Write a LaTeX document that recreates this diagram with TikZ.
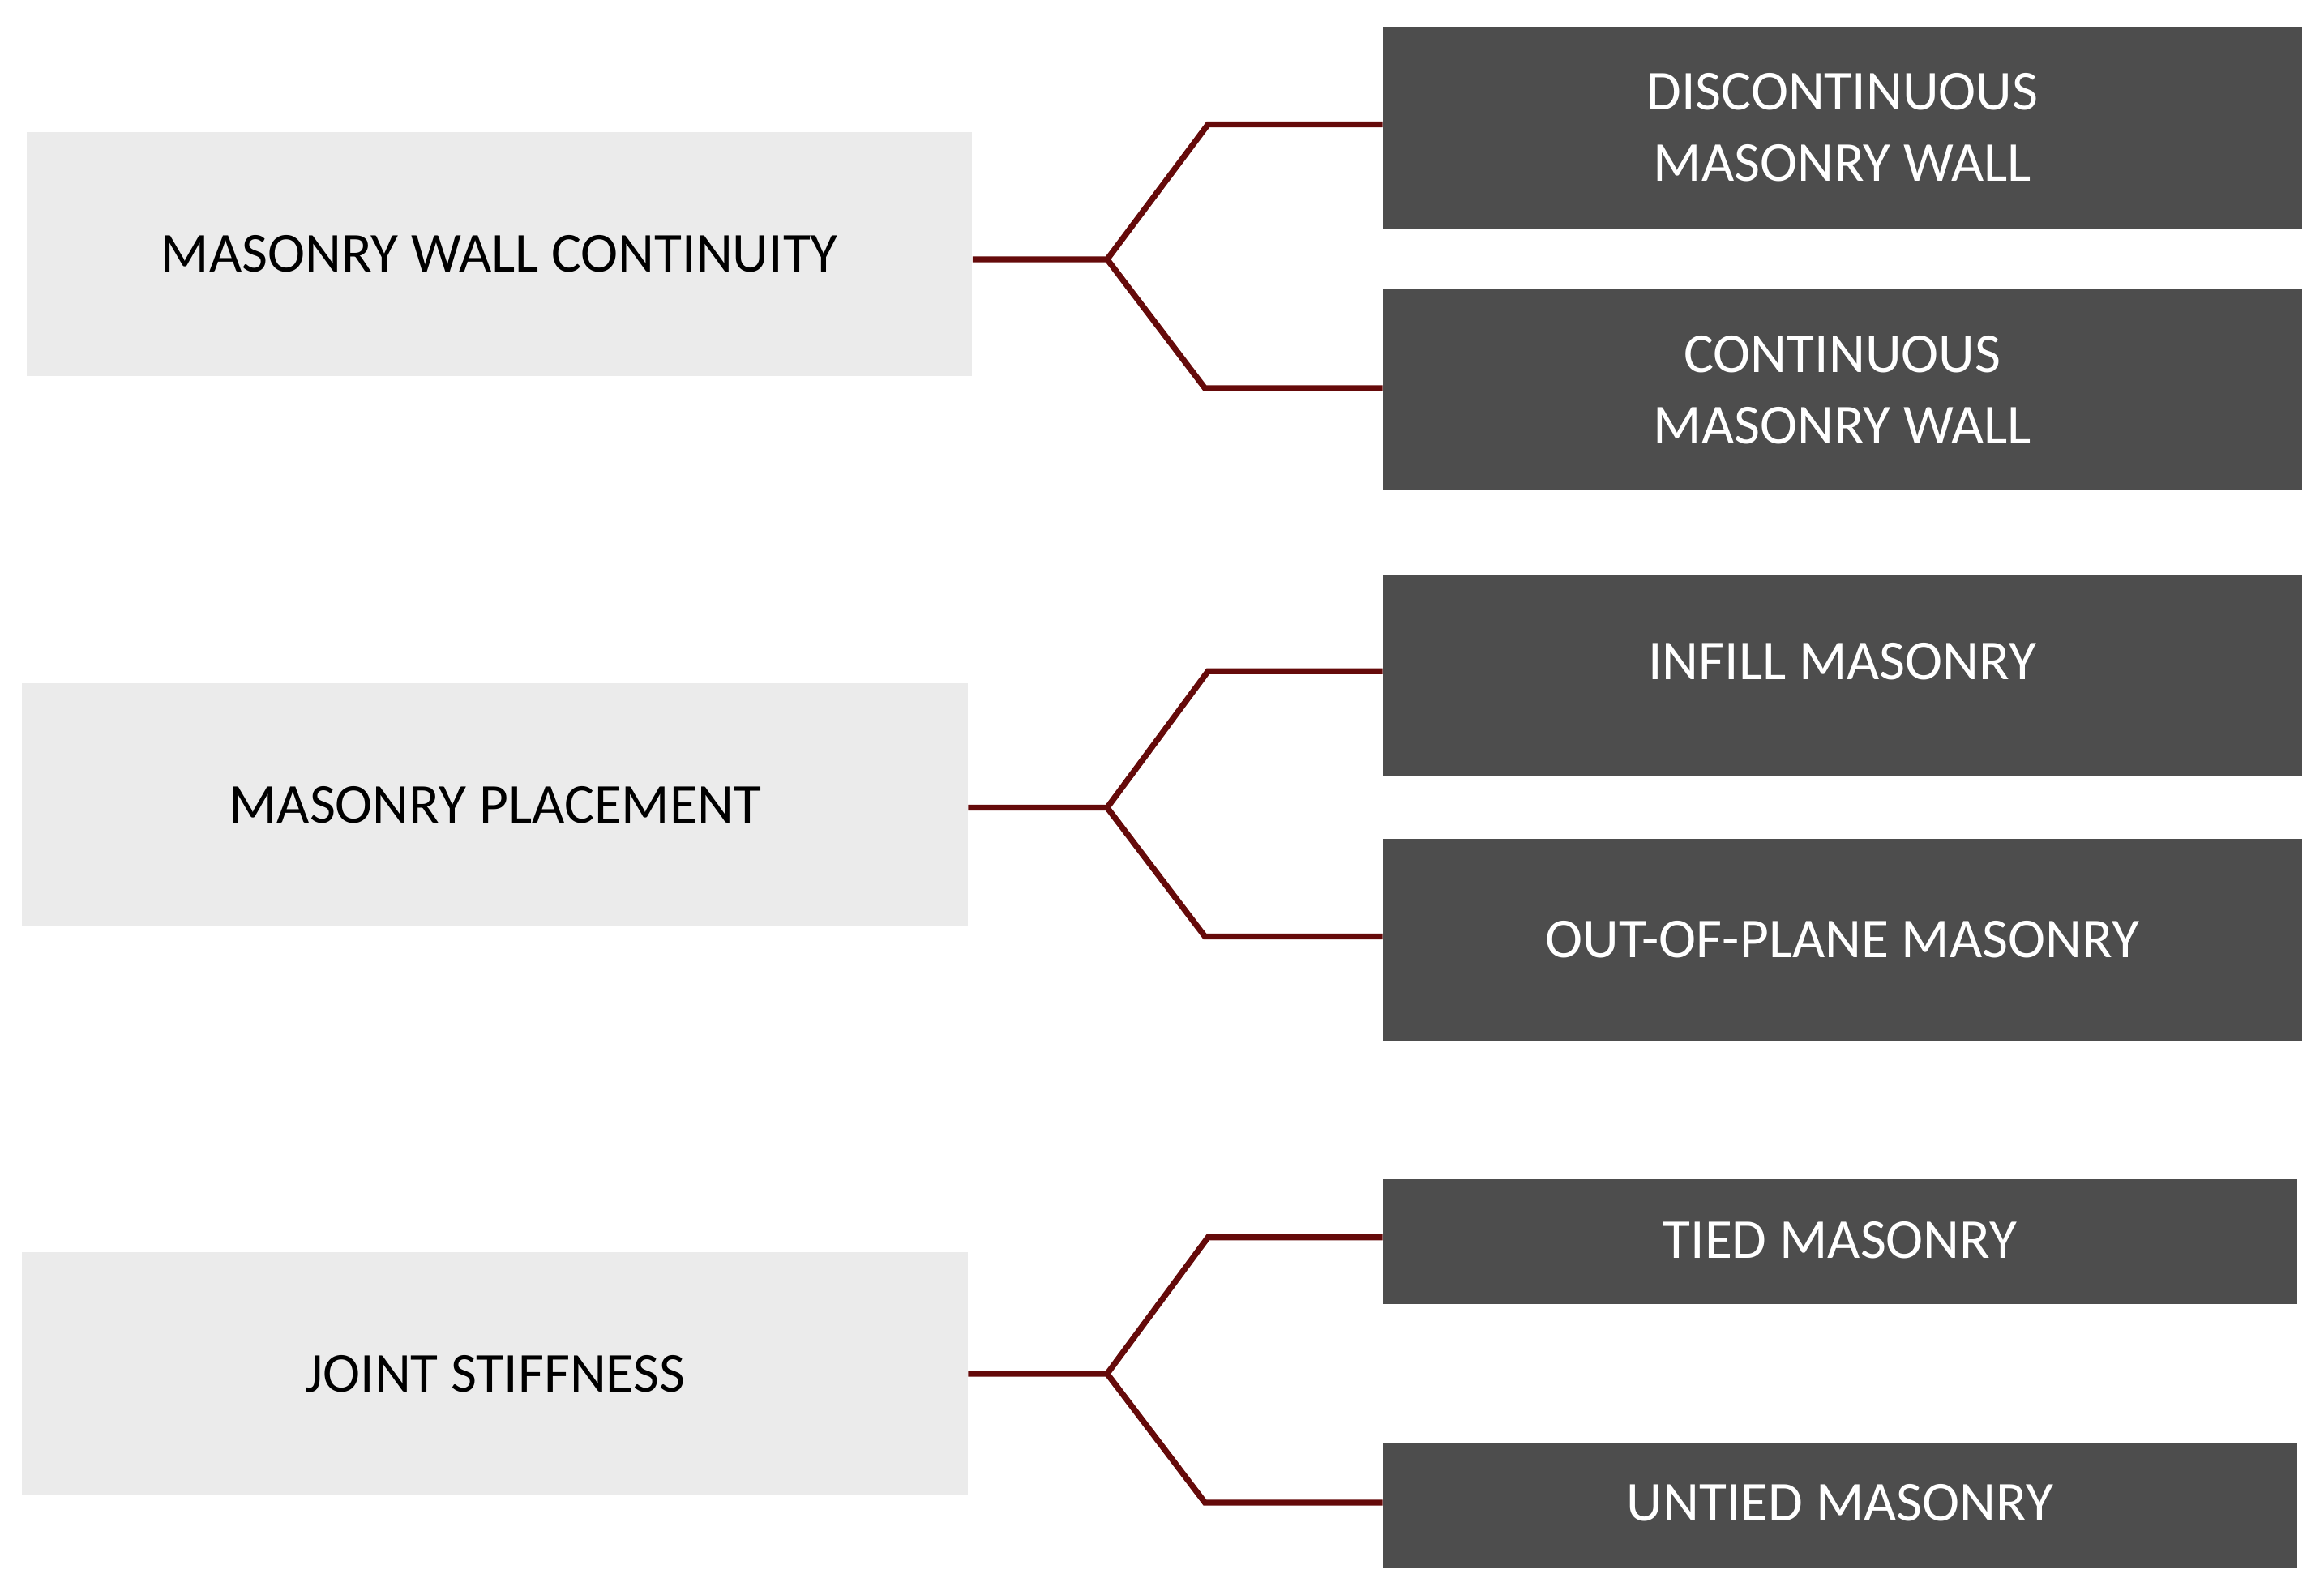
\documentclass[tikz,border=0pt]{standalone}
\usepackage{fontspec}
\setmainfont{Carlito}
\begin{document}
\begin{tikzpicture}[x=1pt,y=-1pt,
 lbox/.style={fill=lg,draw=none,inner sep=0pt,font=\fontsize{38}{46}\selectfont,text=black},
 rbox/.style={fill=dg,draw=none,inner sep=0pt,align=center,font=\fontsize{38}{48}\selectfont,text=white},
 con/.style={draw=cred,line width=4pt,line join=miter}]
\definecolor{lg}{HTML}{EBEBEB}
\definecolor{dg}{HTML}{4D4D4D}
\definecolor{cred}{HTML}{650A0A}
\useasboundingbox (0,0) rectangle (1568,1076);
\node[lbox,minimum width=638pt,minimum height=165pt] (l1) at (337,171.5) {MASONRY WALL CONTINUITY};
\node[lbox,minimum width=638pt,minimum height=164pt] (l2) at (334,543) {MASONRY PLACEMENT};
\node[lbox,minimum width=638pt,minimum height=164pt] (l3) at (334,927) {JOINT STIFFNESS};
\node[rbox,minimum width=620pt,minimum height=136pt] (r1) at (1243,86) {DISCONTINUOUS\\MASONRY WALL};
\node[rbox,minimum width=620pt,minimum height=136pt] (r2) at (1243,263) {CONTINUOUS\\MASONRY WALL};
\node[rbox,minimum width=620pt,minimum height=136pt,text depth=0pt] (r3) at (1243,456) {\raisebox{20pt}{INFILL MASONRY}};
\node[rbox,minimum width=620pt,minimum height=136pt] (r4) at (1243,634) {OUT-OF-PLANE MASONRY};
\node[rbox,minimum width=617pt,minimum height=84pt] (r5) at (1241.5,838) {\raisebox{2pt}{TIED MASONRY}};
\node[rbox,minimum width=617pt,minimum height=84pt] (r6) at (1241.5,1016) {\raisebox{4pt}{UNTIED MASONRY}};
\coordinate (b1) at (747,175);
\coordinate (b2) at (747,545);
\coordinate (b3) at (747,927);
\draw[con] (l1.east |- b1) -- (b1) -- (815,84) -- (r1.west |- 0,84);
\draw[con] (b1) -- (813,262) -- (r2.west |- 0,262);
\draw[con] (l2.east |- b2) -- (b2) -- (815,453) -- (r3.west |- 0,453);
\draw[con] (b2) -- (813,632) -- (r4.west |- 0,632);
\draw[con] (l3.east |- b3) -- (b3) -- (815,835) -- (r5.west |- 0,835);
\draw[con] (b3) -- (813,1014) -- (r6.west |- 0,1014);
\end{tikzpicture}
\end{document}
